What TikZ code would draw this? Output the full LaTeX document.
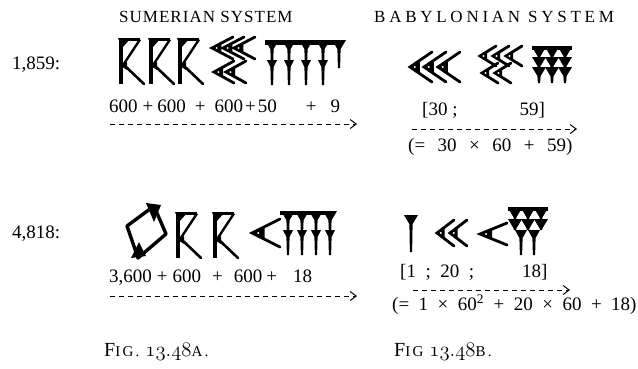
\documentclass[tikz,border=0pt]{standalone}
\usepackage{fontspec}
\setmainfont{Liberation Serif}
\newfontfamily\titlefont[LetterSpace=6]{Liberation Serif}
\newfontfamily\widetitlefont[LetterSpace=22]{Liberation Serif}
\newfontfamily\capfont[LetterSpace=15]{Liberation Serif}
\usetikzlibrary{arrows.meta}

\begin{document}
\begin{tikzpicture}[
    % one unit is one pixel of the page, y runs downwards
    x=1pt, y=-1pt,
    num/.style={anchor=base west, inner sep=0pt, font=\fontsize{19}{22}\selectfont},
    title/.style={anchor=base west, inner sep=0pt, font=\fontsize{17}{20}\selectfont},
    caption/.style={anchor=base west, inner sep=0pt, font=\capfont},
    dasharrow/.style={line width=1pt, dash pattern=on 5pt off 4pt, -{Straight Barb[length=6pt,width=9pt]}},
    % vertical wedge: length, half width of the head
    pics/vwedge/.style 2 args={code={
        \fill (-#2,0) -- (#2,0) -- (1.6,{#2+2}) -- (1.1,#1) -- (-1.1,#1) -- (-1.6,{#2+2}) -- cycle;
    }},
    % corner wedge: reach, half height
    pics/hook/.style 2 args={code={
        \draw[line width=2.8pt, line cap=round, line join=miter] ({#1},{-#2}) -- (0,0) -- ({#1},{#2});
        \fill (-1.5,0) -- ({0.45*#1},{-0.4*#2}) -- ({0.45*#1},{0.4*#2}) -- cycle;
        \fill[white] ({0.22*#1},0) circle (1.1);
    }},
    % the sign for 600, drawn from its top left corner
    pics/gesh/.style={code={
        \draw[line width=3.4pt] (3,1) -- (3,46);
        \draw[line width=2.6pt] (1,1.5) -- (22,1.5);
        \fill (0,0) -- (13,0) -- (4,10) -- cycle;
        \draw[line width=2.4pt] (22,1.5) -- (4.5,28);
        \draw[line width=2.6pt, line cap=round] (6,27) -- (26,46);
        \fill (3,28) -- (9,24) -- (9,32) -- cycle;
    }}
]
    \useasboundingbox (0,0) rectangle (638,368);

    \node[title, font=\titlefont\fontsize{17}{20}\selectfont] (tsum) at (119,22) {SUMERIAN SYSTEM};
    \node[title, font=\widetitlefont\fontsize{17}{20}\selectfont] (tbab) at (374,22) {BABYLONIAN SYSTEM};

    % first number
    \node[num] (lab1) at (12,69) {1,859:};
    \pic at (118,38) {gesh};
    \pic at (148,38) {gesh};
    \pic at (177,38) {gesh};
    \foreach \x in {212,223,234} \pic at (\x,48) {hook={21}{11}};
    \foreach \x in {214,226} \pic at (\x,72) {hook={20}{11}};
    \draw[line width=5pt] (265,42) -- (343,42);
    \foreach \x in {272,289,306,323,339} \pic at (\x,40) {vwedge={28}{7}};
    \foreach \x in {272,289,306,323} \pic at (\x,60) {vwedge={25}{5}};
    \node[num] (sum1) at (109,112) {600\hspace{5pt}+\hspace{4pt}600\hspace{9pt}+\hspace{9pt}600\hspace{2pt}+\hspace{2pt}50\hspace{29pt}+\hspace{14pt}9};
    \coordinate (s1a) at (110,124);
    \coordinate (s1b) at (357,124);
    \draw[dasharrow] (s1a) -- (s1b);

    \foreach \x in {410,424,438} \pic at (\x,67) {hook={22}{15}};
    \foreach \x in {480,493,506} \pic at (\x,56) {hook={16}{10}};
    \foreach \x in {482,495} \pic at (\x,73) {hook={16}{10}};
    \draw[line width=4pt] (532,48) -- (572,48);
    \foreach \x in {539,552,565} {
        \pic at (\x,47) {vwedge={12}{7}};
        \pic at (\x,57) {vwedge={12}{7}};
        \pic at (\x,67) {vwedge={16}{7}};
    }
    \node[num] (bab1) at (422,115) {[30\ ;\hspace{62pt}59]};
    \coordinate (b1a) at (412,129);
    \coordinate (b1b) at (577,129);
    \draw[dasharrow] (b1a) -- (b1b);
    \node[num] (eq1) at (408,151) {(=\hspace{12.5pt}30\hspace{12.5pt}×\hspace{12.5pt}60\hspace{12.5pt}+\hspace{12.5pt}59)};

    % second number
    \node[num] (lab2) at (12,238) {4,818:};
    \draw[line width=3.4pt, line join=round] (154,206) -- (166,234) -- (138,258) -- (127,226) -- cycle;
    \fill (146,203) -- (161,205) -- (154,222) -- cycle;
    \fill (131,258) -- (146,256) -- (139,242) -- cycle;
    \pic at (175,212) {gesh};
    \pic at (212,212) {gesh};
    \pic at (252,233) {hook={28}{14}};
    \draw[line width=4.5pt] (280,213) -- (335,213);
    \foreach \x in {288,302,316,330} {
        \pic at (\x,211) {vwedge={22}{7}};
        \pic at (\x,230) {vwedge={25}{5}};
    }
    \node[num] (sum2) at (109,282) {3,600\hspace{5pt}+\hspace{5pt}600\hspace{11pt}+\hspace{11pt}600\hspace{4pt}+\hspace{16pt}18};
    \coordinate (s2a) at (110,296);
    \coordinate (s2b) at (357,296);
    \draw[dasharrow] (s2a) -- (s2b);

    \pic at (411,215) {vwedge={37}{7}};
    \foreach \x in {437,450} \pic at (\x,233) {hook={17}{13}};
    \pic at (480,234) {hook={27}{11}};
    \draw[line width=4pt] (508,209) -- (548,209);
    \foreach \x in {515,528,541} {
        \pic at (\x,208) {vwedge={11}{7}};
        \pic at (\x,219) {vwedge={11}{7}};
    }
    \foreach \x in {521,534} \pic at (\x,230) {vwedge={25}{6}};
    \node[num] (bab2) at (400,277) {[1\ \ ;\ \ 20\ \ ;\hspace{48pt}18]};
    \coordinate (b2a) at (413,290);
    \coordinate (b2b) at (570,290);
    \draw[dasharrow] (b2a) -- (b2b);
    \node[num] (eq2) at (392,310) {(=\hspace{9.5pt}1\hspace{9.5pt}×\hspace{9.5pt}60\textsuperscript{2}\hspace{9.5pt}+\hspace{9.5pt}20\hspace{9.5pt}×\hspace{9.5pt}60\hspace{9.5pt}+\hspace{9.5pt}18)};

    \node[caption] (capa) at (104,356) {\fontsize{20}{22}\selectfont F\fontsize{15}{17}\selectfont IG.\ \fontsize{20}{22}\selectfont$\mathnormal{13.48}$\fontsize{15}{17}\selectfont A.};
    \node[caption] (capb) at (394,356) {\fontsize{20}{22}\selectfont F\fontsize{15}{17}\selectfont IG\ \fontsize{20}{22}\selectfont$\mathnormal{13.48}$\fontsize{15}{17}\selectfont B.};
\end{tikzpicture}
\end{document}
